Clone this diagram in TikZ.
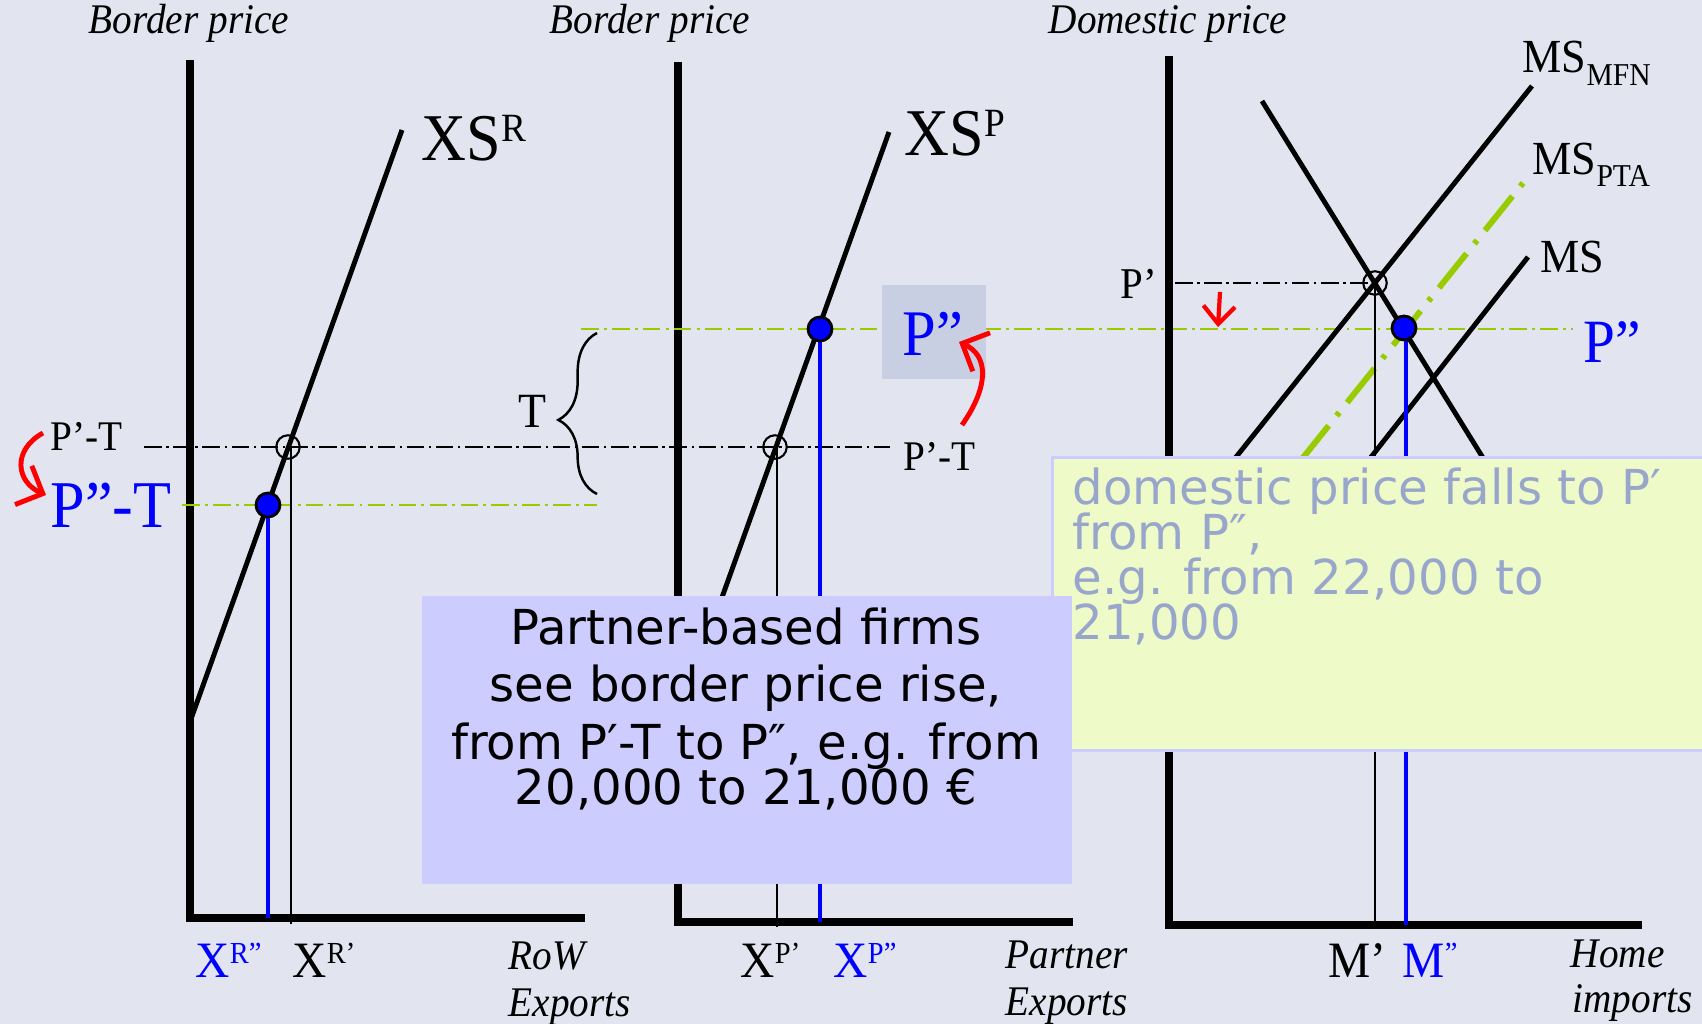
\documentclass[tikz,border=0pt]{standalone}
\usepackage{fontspec}
\setmainfont{Liberation Serif}[FakeStretch=0.93]
\newfontfamily\dvs{DejaVu Sans}
\usepackage{graphicx}
\usetikzlibrary{arrows.meta,decorations.pathreplacing}
\definecolor{bgc}{RGB}{226,229,240}
\definecolor{grn}{RGB}{153,204,0}
\definecolor{pboxc}{RGB}{201,207,226}
\definecolor{purp}{RGB}{204,204,255}
\definecolor{yell}{RGB}{238,250,200}
\definecolor{ytext}{RGB}{153,166,204}
\newcommand\sups[1]{\raisebox{0.27em}{\scalebox{0.6}{#1}}}
\newcommand\subs[1]{\raisebox{-0.26em}{\scalebox{0.67}{#1}}}
\newcommand\boxfont{\dvs\fontsize{13.7}{12.8}\selectfont\setlength{\lineskiplimit}{-20pt}\relax}
\begin{document}
\begin{tikzpicture}[x=0.01cm,y=-0.01cm,
  axis/.style={line width=2.2pt, line join=miter},
  curve/.style={line width=1.4pt},
  thinv/.style={line width=0.5pt},
  bluev/.style={blue, line width=1pt},
  ddblack/.style={line width=0.6pt, dash pattern=on 5pt off 1.3pt on 0.7pt off 1.3pt},
  ddgreen/.style={grn, line width=0.75pt, dash pattern=on 5pt off 1.5pt on 0.8pt off 1.5pt},
  ddpta/.style={grn, line width=1.7pt, dash pattern=on 1.2pt off 3.6pt on 12.5pt off 3.6pt},
  ocirc/.style={circle, draw, line width=0.6pt, minimum size=0.235cm, inner sep=0pt},
  bdot/.style={circle, fill=blue, draw=black, line width=0.8pt, minimum size=0.24cm, inner sep=0pt},
  redarr/.style={red, line width=1.4pt, -{Straight Barb[length=6pt,width=12pt,line width=1.4pt]}},
  lab/.style={inner sep=0pt, anchor=base west},
  ital/.style={inner sep=0pt, anchor=base west, font=\fontsize{12}{14}\selectfont\itshape},
  bot/.style={inner sep=0pt, anchor=base west, font=\fontsize{14.5}{16}\selectfont},
  mslab/.style={inner sep=0pt, anchor=base west, font=\fontsize{13.5}{15}\selectfont}
]
\useasboundingbox (0,0) rectangle (1702,1024);
\fill[bgc] (0,0) rectangle (1702,1024);

% ---------- left chart
\coordinate (LT) at (190,60); \coordinate (LO) at (190,918); \coordinate (LR) at (585,918);
\draw[axis] (LT) -- (LO) -- (LR);
\coordinate (XRa) at (191,719); \coordinate (XRb) at (402,130);
\draw[curve] (XRa) -- (XRb);
\coordinate (PTa) at (144,447); \coordinate (PTb) at (890,447);
\draw[ddblack] (PTa) -- (PTb);
\coordinate (Ga) at (182,505); \coordinate (Gb) at (597,505);
\draw[ddgreen] (Ga) -- (Gb);
\coordinate (vLa) at (291,447); \coordinate (vLb) at (291,924);
\draw[thinv] (vLa) -- (vLb);
\coordinate (dLc) at (268,505); \coordinate (dLb) at (268,918);
\draw[bluev] (dLc) -- (dLb);
\node[ocirc] (oL) at (288,447) {};
\node[bdot] (dL) at (dLc) {};

% ---------- middle chart
\coordinate (MT) at (678,62); \coordinate (MO) at (678,922); \coordinate (MR) at (1073,922);
\draw[axis] (MT) -- (MO) -- (MR);
\coordinate (XPa) at (678,720); \coordinate (XPb) at (889,132);
\draw[curve] (XPa) -- (XPb);
\coordinate (Ua) at (581,329); \coordinate (Ub) at (1573,329);
\draw[ddgreen] (Ua) -- (Ub);
\coordinate (vMa) at (777,447); \coordinate (vMb) at (777,927);
\draw[thinv] (vMa) -- (vMb);
\coordinate (dMc) at (820,329); \coordinate (dMb) at (820,922);
\draw[bluev] (dMc) -- (dMb);
\node[ocirc] (oM) at (775,447) {};
\node[bdot] (dM) at (dMc) {};
\coordinate (Bb) at (597,494); \coordinate (Bt) at (597,333);
\draw[line width=0.7pt, decorate, decoration={brace, amplitude=11pt, aspect=0.46}] (Bb) -- (Bt);

% ---------- right chart
\coordinate (RT) at (1169,56); \coordinate (RO) at (1169,925); \coordinate (RR) at (1642,925);
\draw[axis] (RT) -- (RO) -- (RR);
\coordinate (Da) at (1262,101); \coordinate (Db) at (1571,600);
\draw[curve] (Da) -- (Db);
\coordinate (MFa) at (1532,86); \coordinate (MFb) at (1122,600);
\draw[curve] (MFa) -- (MFb);
\coordinate (MSa) at (1528,257); \coordinate (MSb) at (1259,600);
\draw[curve] (MSa) -- (MSb);
\coordinate (PTAa) at (1523,183); \coordinate (PTAb) at (1189,600);
\draw[ddpta] (PTAa) -- (PTAb);
\coordinate (Pa) at (1175,283); \coordinate (Pb) at (1375,283);
\draw[ddblack] (Pa) -- (Pb);
\coordinate (vRa) at (1375,283); \coordinate (vRb) at (1375,929);
\draw[thinv] (vRa) -- (vRb);
\coordinate (dRc) at (1404,328); \coordinate (dRt) at (1406,328); \coordinate (dRb) at (1406,925);
\draw[bluev] (dRt) -- (dRb);
\node[ocirc] (oR) at (1375,283) {};
\node[bdot] (dR) at (dRc) {};

% ---------- boxes
\node[fill=pboxc, minimum width=1.04cm, minimum height=0.94cm, anchor=north west, inner sep=0pt] (pppbox) at (881,284) {};
\node[fill=yell, draw=purp, line width=0.8pt, minimum width=6.51cm, minimum height=2.93cm, anchor=north west, inner sep=0pt] (ybox) at (1051,456) {};
\node[anchor=north west, inner sep=0pt, align=left, text=ytext, font=\boxfont] (ytxt) at (1072,467) {domestic price falls to P′\\from P″,\\e.g. from 22,000 to\\21,000};
\node[fill=purp, minimum width=6.5cm, minimum height=2.88cm, anchor=north west, inner sep=0pt] (pbox) at (421,595) {};
\node[anchor=north, inner sep=0pt, align=center, font=\boxfont] (ptxt) at (746,607) {Partner-based firms\\[3.6pt]see border price rise,\\[3.6pt]from P′-T to P″, e.g. from\\20,000 to 21,000 €};

% ---------- red arrows
\coordinate (raLa) at (43,433); \coordinate (raLb) at (46,495);
\draw[redarr] (raLa) .. controls (12,450) and (16,482) .. (raLb);
\coordinate (raMa) at (962,425); \coordinate (raMb) at (959,342);
\draw[redarr] (raMa) .. controls (990,385) and (988,355) .. (raMb);
\coordinate (raRa) at (1220,292); \coordinate (raRb) at (1218,327);
\draw[red, line width=1.2pt, -{Straight Barb[length=5pt,width=9pt,line width=1.2pt]}] (raRa) -- (raRb);

% ---------- labels
\node[ital, anchor=base] (bp1) at (189,33) {Border price};
\node[ital, anchor=base] (bp2) at (650,33) {Border price};
\node[ital, anchor=base] (dpl) at (1168,33) {Domestic price};
\node[lab, font=\fontsize{19}{21}\selectfont] (xsr) at (421,160) {XS\sups{R}};
\node[lab, font=\fontsize{19}{21}\selectfont] (xsp) at (904,155) {XS\sups{P}};
\node[lab, font=\fontsize{12}{14}\selectfont] (ptl) at (50,450) {P’-T};
\node[lab, text=blue, font=\fontsize{19}{21}\selectfont] (pptl) at (50,527) {P”-T};
\node[lab, font=\fontsize{14}{16}\selectfont] (tl) at (518,427) {T};
\node[lab, font=\fontsize{12}{14}\selectfont] (ptr) at (903,470) {P’-T};
\node[lab, text=blue, font=\fontsize{18.5}{20}\selectfont] (pppl) at (902,355) {P”};
\node[lab, font=\fontsize{12.5}{14}\selectfont] (prl) at (1120,298) {P’};
\node[lab, text=blue, font=\fontsize{17.5}{20}\selectfont] (pprl) at (1583,362) {P”};
\node[mslab] (msmfn) at (1522,73) {MS\subs{MFN}};
\node[mslab] (mspta) at (1532,174) {MS\subs{PTA}};
\node[mslab] (msl) at (1540,272) {MS};
\node[bot, text=blue] (xrpp) at (195,977) {X\sups{R”}};
\node[bot] (xrp) at (292,977) {X\sups{R’}};
\node[bot] (xpp) at (740,977) {X\sups{P’}};
\node[bot, text=blue] (xppp) at (833,977) {X\sups{P”}};
\node[bot] (mpl) at (1328,977) {M’};
\node[bot, text=blue] (mppl) at (1402,977) {M\sups{”}};
\node[ital] (row) at (508,969) {RoW};
\node[ital] (ex1) at (508,1016) {Exports};
\node[ital] (ptn) at (1005,968) {Partner};
\node[ital] (ex2) at (1005,1015) {Exports};
\node[ital] (home) at (1570,967) {Home};
\node[ital] (imp) at (1572,1012) {imports};
\end{tikzpicture}
\end{document}
